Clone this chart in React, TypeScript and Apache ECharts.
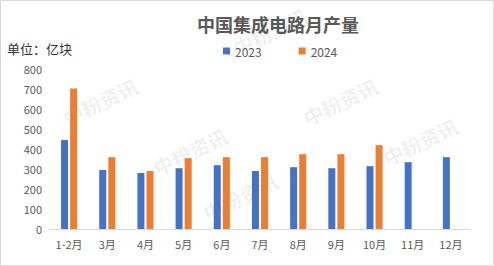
import React, { useEffect, useRef } from "react";
import * as echarts from "echarts";

const categories = ["1-2月", "3月", "4月", "5月", "6月", "7月", "8月", "9月", "10月", "11月", "12月"];
const values2023 = [443, 294, 279, 303, 318, 289, 308, 303, 313, 333, 358];
const values2024: (number | null)[] = [700, 358, 289, 353, 358, 358, 373, 373, 418, null, null];
const yTicks = [0, 100, 200, 300, 400, 500, 600, 700, 800];
const seriesNames = ["2023", "2024"];

const FONT = '"Noto Sans CJK SC", "Noto Sans", sans-serif';

export default function App() {
  const ref = useRef<HTMLDivElement>(null);
  useEffect(() => {
    document.body.style.margin = "0";
    const chart = echarts.init(ref.current!, null, { renderer: "svg" });
    const wm = (x: number, y: number) => ({
      type: "text",
      x,
      y,
      rotation: Math.PI / 7,
      silent: true,
      z: -1,
      style: { text: "中粉资讯", fill: "rgba(0,0,0,0.07)", font: `bold 20px ${FONT}` },
    });
    chart.setOption({
      animation: false,
      backgroundColor: "#ffffff",
      title: {
        text: "中国集成电路月产量",
        left: 192,
        top: 10,
        textStyle: { fontFamily: FONT, fontSize: 18, fontWeight: "bold", color: "#595959" },
      },
      legend: {
        data: seriesNames,
        top: 40,
        left: 218,
        itemWidth: 7,
        itemHeight: 7,
        itemGap: 37,
        icon: "rect",
        textStyle: { fontFamily: FONT, fontSize: 12, color: "#595959" },
      },
      graphic: [
        {
          type: "text",
          left: 7,
          top: 42,
          style: { text: "单位：亿块", fill: "#333", font: `13px ${FONT}` },
        },
        {
          type: "rect",
          shape: { x: 0.5, y: 0.5, width: 493, height: 265 },
          style: { fill: "none", stroke: "#d9d9d9", lineWidth: 1 },
          silent: true,
        },
        wm(230, 40),
        wm(60, 110),
        wm(150, 160),
        wm(300, 110),
        wm(380, 150),
        wm(200, 205),
      ],
      grid: { left: 50, right: 24, top: 68.5, bottom: 37, containLabel: false },
      xAxis: {
        type: "category",
        data: categories,
        axisLine: { lineStyle: { color: "#d9d9d9" } },
        axisTick: { show: false },
        axisLabel: { fontFamily: FONT, fontSize: 11, color: "#595959", margin: 9, interval: 0 },
      },
      yAxis: {
        type: "value",
        min: yTicks[0],
        max: yTicks[yTicks.length - 1],
        interval: 100,
        splitLine: { show: false },
        axisLine: { show: false },
        axisTick: { show: false },
        axisLabel: { fontFamily: FONT, fontSize: 11, color: "#595959", margin: 8 },
      },
      series: [
        {
          name: seriesNames[0],
          type: "bar",
          data: values2023,
          barWidth: 7,
          barGap: "30%",
          itemStyle: { color: "#4472C4" },
        },
        {
          name: seriesNames[1],
          type: "bar",
          data: values2024,
          barWidth: 7,
          itemStyle: { color: "#ED7D31" },
        },
      ],
    });
    return () => chart.dispose();
  }, []);
  return <div ref={ref} style={{ width: 494, height: 266 }} />;
}
